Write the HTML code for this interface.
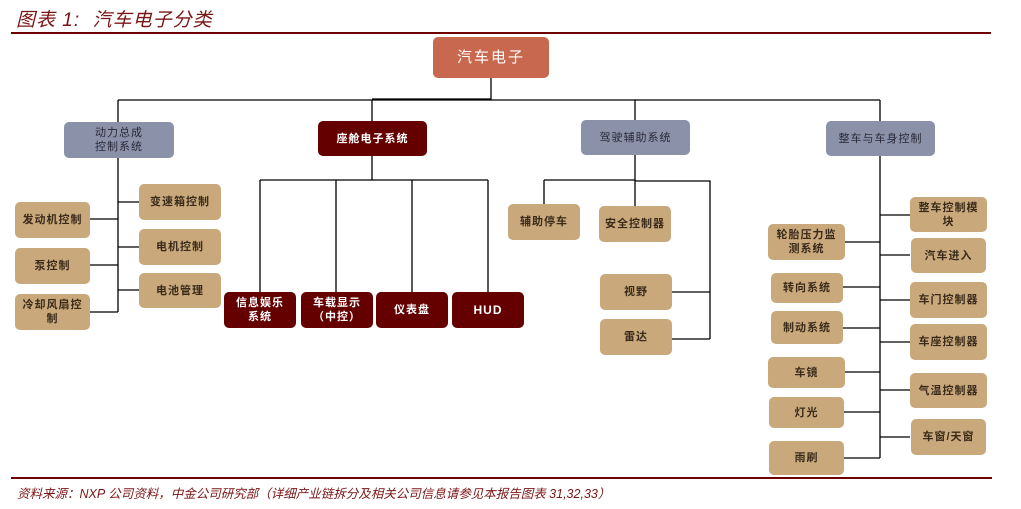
<!DOCTYPE html>
<html><head><meta charset="utf-8"><style>
body{margin:0;width:1021px;height:509px;background:#fff;position:relative;overflow:hidden;font-family:"Liberation Sans","Noto Sans CJK SC",sans-serif}
.b{position:absolute;display:flex;align-items:center;justify-content:center;text-align:center;border-radius:5px;font-size:11px;line-height:14px;box-sizing:border-box;font-weight:bold;color:#3a2a1a;letter-spacing:1px}
.t{background:#c9a97b}
.g{background:#8b91a8;color:#2a2a3a;font-weight:normal}
.r{background:#650000;color:#fff}
.it{position:absolute;font-style:italic;color:#7a1515}
</style></head><body>
<div class="it" style="left:16px;top:5px;font-size:19px;letter-spacing:1px">图表 1:&nbsp; 汽车电子分类</div>
<div style="position:absolute;left:11px;top:32px;width:980px;height:2px;background:#6e0000"></div>
<div style="position:absolute;left:11px;top:477px;width:981px;height:2px;background:#6e0000"></div>
<div class="it" style="left:17px;top:483px;font-size:12.5px;">资料来源：NXP 公司资料，中金公司研究部（详细产业链拆分及相关公司信息请参见本报告图表 31,32,33）</div>

<svg width="1021" height="509" style="position:absolute;left:0;top:0" fill="none" stroke="#000" stroke-width="1.3">
<path d="M491 78V100M118 100H880M372 99H491M118 100V312M372 100V121M635 100V120M880 100V121"/>
<path d="M90 219H118M90 265H118M90 312H118M118 202H139M118 247H139M118 290H139"/>
<path d="M372 156V180M260 180H488M260 180V292M336 180V292M412 180V292M488 180V292"/>
<path d="M635 155V206M544 180H635M544 180V204M635 181H710V339M672 292H710M668 339H710"/>
<path d="M880 156V458M845 242H880M843 287H880M843 328H880M845 372H880M844 412H880M844 458H880M880 215H910M880 255H910M880 300H910M880 342H910M880 390H910M880 437H910"/>
</svg>

<div class="b" style="left:433px;top:37px;width:116px;height:41px;background:#c8694f;color:#fff;font-size:15px;font-weight:normal;letter-spacing:2px">汽车电子</div>

<div class="b g" style="left:64px;top:122px;width:110px;height:36px">动力总成<br>控制系统</div>
<div class="b r" style="left:318px;top:121px;width:109px;height:35px">座舱电子系统</div>
<div class="b g" style="left:581px;top:120px;width:109px;height:35px">驾驶辅助系统</div>
<div class="b g" style="left:826px;top:121px;width:109px;height:35px">整车与车身控制</div>

<div class="b t" style="left:15px;top:202px;width:75px;height:36px">发动机控制</div>
<div class="b t" style="left:15px;top:248px;width:75px;height:36px">泵控制</div>
<div class="b t" style="left:15px;top:294px;width:75px;height:36px">冷却风扇控<br>制</div>
<div class="b t" style="left:139px;top:184px;width:82px;height:36px">变速箱控制</div>
<div class="b t" style="left:139px;top:229px;width:82px;height:36px">电机控制</div>
<div class="b t" style="left:139px;top:273px;width:82px;height:35px">电池管理</div>

<div class="b r" style="left:224px;top:292px;width:72px;height:36px">信息娱乐<br>系统</div>
<div class="b r" style="left:301px;top:292px;width:72px;height:36px">车载显示<br>（中控）</div>
<div class="b r" style="left:376px;top:292px;width:72px;height:36px">仪表盘</div>
<div class="b r" style="left:452px;top:292px;width:72px;height:36px;font-size:12px">HUD</div>

<div class="b t" style="left:508px;top:204px;width:72px;height:36px">辅助停车</div>
<div class="b t" style="left:599px;top:206px;width:72px;height:36px">安全控制器</div>
<div class="b t" style="left:600px;top:274px;width:72px;height:36px">视野</div>
<div class="b t" style="left:600px;top:319px;width:72px;height:36px">雷达</div>

<div class="b t" style="left:768px;top:224px;width:77px;height:36px">轮胎压力监<br>测系统</div>
<div class="b t" style="left:771px;top:273px;width:72px;height:30px">转向系统</div>
<div class="b t" style="left:771px;top:311px;width:72px;height:33px">制动系统</div>
<div class="b t" style="left:768px;top:357px;width:77px;height:31px">车镜</div>
<div class="b t" style="left:769px;top:397px;width:75px;height:31px">灯光</div>
<div class="b t" style="left:769px;top:441px;width:75px;height:34px">雨刷</div>

<div class="b t" style="left:910px;top:197px;width:77px;height:35px">整车控制模<br>块</div>
<div class="b t" style="left:911px;top:238px;width:75px;height:35px">汽车进入</div>
<div class="b t" style="left:910px;top:282px;width:77px;height:36px">车门控制器</div>
<div class="b t" style="left:910px;top:324px;width:77px;height:36px">车座控制器</div>
<div class="b t" style="left:910px;top:373px;width:77px;height:35px">气温控制器</div>
<div class="b t" style="left:911px;top:419px;width:75px;height:36px">车窗/天窗</div>
</body></html>
